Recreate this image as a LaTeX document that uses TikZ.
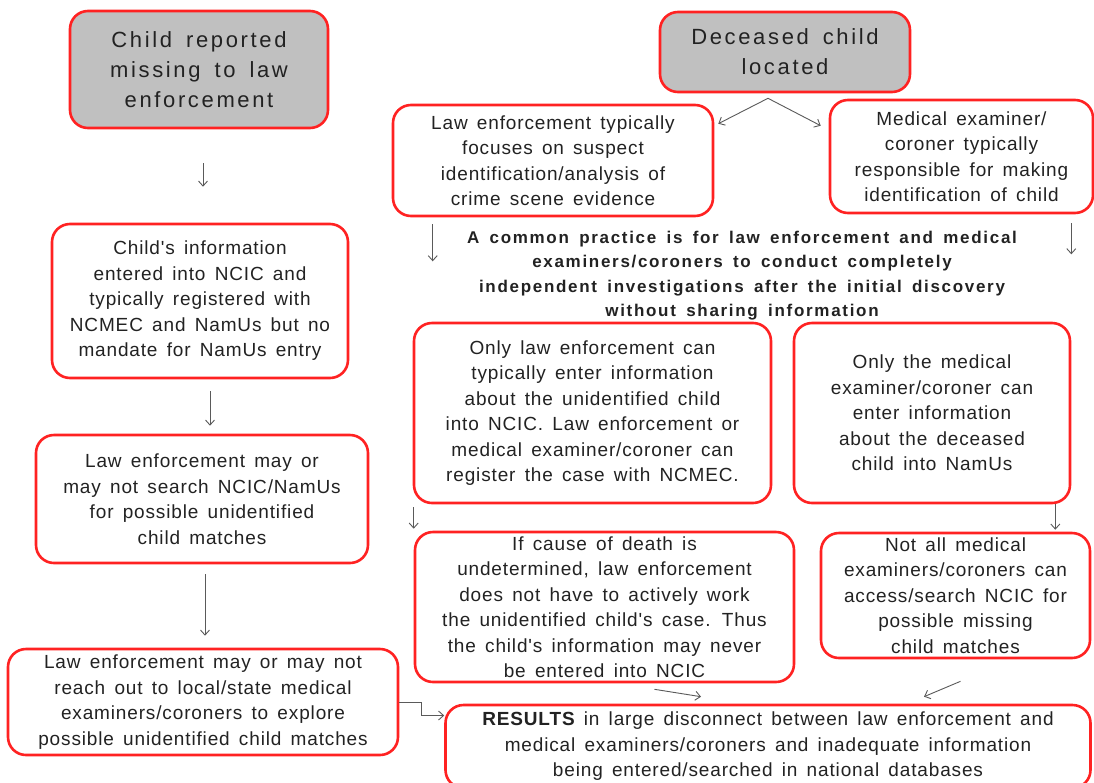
\documentclass[tikz,border=0pt]{standalone}
\usepackage{fontspec}
\setmainfont{Liberation Sans}
\newfontfamily\bodyf[LetterSpace=4.5,WordSpace=1.5]{Liberation Sans}
\newfontfamily\titlef[LetterSpace=12,WordSpace=1.6]{Liberation Sans}
\newfontfamily\notef[LetterSpace=10,WordSpace=1.6]{Liberation Sans}
\usetikzlibrary{arrows.meta,calc}
\definecolor{boxred}{HTML}{FF2222}
\definecolor{boxgray}{HTML}{C0C0C0}
\definecolor{txt}{HTML}{222222}
\definecolor{arrgray}{HTML}{5A5A5A}
\tikzset{
  box/.style={draw=boxred, line width=2.6pt, rounded corners=18pt, fill=white,
    align=center, inner sep=0pt, text=txt, font={\bodyf\fontsize{19}{25.5}\selectfont}},
  titlebox/.style={box, fill=boxgray, font={\titlef\fontsize{22}{30}\selectfont}},
  notetext/.style={align=center, inner sep=0pt, text=txt, font={\notef\bfseries\fontsize{17}{24.3}\selectfont}},
  arr/.style={draw=arrgray, line width=0.9pt, -{Straight Barb[length=5pt,width=9pt]}}
}
\begin{document}
\begin{tikzpicture}[x=1pt,y=-1pt]
\useasboundingbox[fill=white] (0,0) rectangle (1094,782);

\node[titlebox, minimum width=258pt, minimum height=117pt] (A) at (199,69.5)
  {Child reported\\missing to law\\enforcement};
\node[titlebox, minimum width=250pt, minimum height=80pt] (B) at (785,52)
  {Deceased child\\located};
\node[box, minimum width=320pt, minimum height=111pt] (C) at (553,160.5)
  {Law enforcement typically\\focuses on suspect\\identification/analysis of\\crime scene evidence};
\node[box, minimum width=263pt, minimum height=113pt] (D) at (961.5,156.5)
  {Medical examiner/\\coroner typically\\responsible for making\\identification of child};
\node[box, minimum width=296pt, minimum height=154pt] (E) at (200,301)
  {Child's information\\entered into NCIC and\\typically registered with\\NCMEC and NamUs but no\\mandate for NamUs entry};
\node[box, minimum width=332pt, minimum height=128pt] (F) at (202,499)
  {Law enforcement may or\\may not search NCIC/NamUs\\for possible unidentified\\child matches};
\node[notetext] (N) at (742,275.5)
  {A common practice is for law enforcement and medical\\examiners/coroners to conduct completely\\independent investigations after the initial discovery\\without sharing information};
\node[box, minimum width=357pt, minimum height=180pt] (G) at (592.5,413)
  {Only law enforcement can\\typically enter information\\about the unidentified child\\into NCIC. Law enforcement or\\medical examiner/coroner can\\register the case with NCMEC.};
\node[box, minimum width=276pt, minimum height=180pt] (H) at (932,413)
  {Only the medical\\examiner/coroner can\\enter information\\about the deceased\\child into NamUs};
\node[box, minimum width=379pt, minimum height=150pt] (I) at (604.5,607)
  {If cause of death is\\undetermined, law enforcement\\does not have to actively work\\the unidentified child's case. Thus\\the child's information may never\\be entered into NCIC};
\node[box, minimum width=269pt, minimum height=125pt] (J) at (955.5,595.5)
  {Not all medical\\examiners/coroners can\\access/search NCIC for\\possible missing\\child matches};
\node[box, minimum width=390pt, minimum height=106pt] (K) at (203,702)
  {Law enforcement may or may not\\reach out to local/state medical\\examiners/coroners to explore\\possible unidentified child matches};
\node[box, minimum width=645pt, minimum height=83pt] (L) at (768,746.5)
  {{\bfseries RESULTS} in large disconnect between law enforcement and\\medical examiners/coroners and inadequate information\\being entered/searched in national databases};

% connectors
\draw[arr] ([xshift=4pt,yshift=-34pt]A.south) -- ([xshift=3pt,yshift=36pt]E.north);
\draw[arr] ([xshift=10pt,yshift=-12pt]E.south) -- ([xshift=8pt,yshift=8pt]F.north);
\draw[arr] ([xshift=3pt,yshift=-10pt]F.south) -- ([xshift=2pt,yshift=12pt]K.north);
\draw[arr] (K.east) -- ++(22pt,0) |- ([yshift=31pt]L.west);
\coordinate (split) at ([xshift=-17pt,yshift=-5pt]B.south);
\draw[arr] (split) -- ([xshift=4pt,yshift=-20pt]C.north east);
\draw[arr] (split) -- ([xshift=-8pt,yshift=-27pt]D.north west);
\draw[arr] ([xshift=41pt,yshift=-7pt]C.south west) -- ([xshift=41pt,yshift=-44pt]C.south west);
\draw[arr] ([xshift=-23pt,yshift=-9pt]D.south east) -- ([xshift=-23pt,yshift=-40pt]D.south east);
\draw[arr] ([xshift=1pt,yshift=-3pt]G.south west) -- ([xshift=0pt,yshift=2pt]I.north west);
\draw[arr] ([xshift=-16pt]H.south east) -- ([xshift=-36pt,yshift=2pt]J.north east);
\draw[arr] ([xshift=50pt,yshift=-6pt]I.south) -- ([xshift=-67pt,yshift=7pt]L.north);
\draw[arr] ([xshift=5pt,yshift=-22pt]J.south) -- ([xshift=156pt,yshift=7pt]L.north);
\end{tikzpicture}
\end{document}
